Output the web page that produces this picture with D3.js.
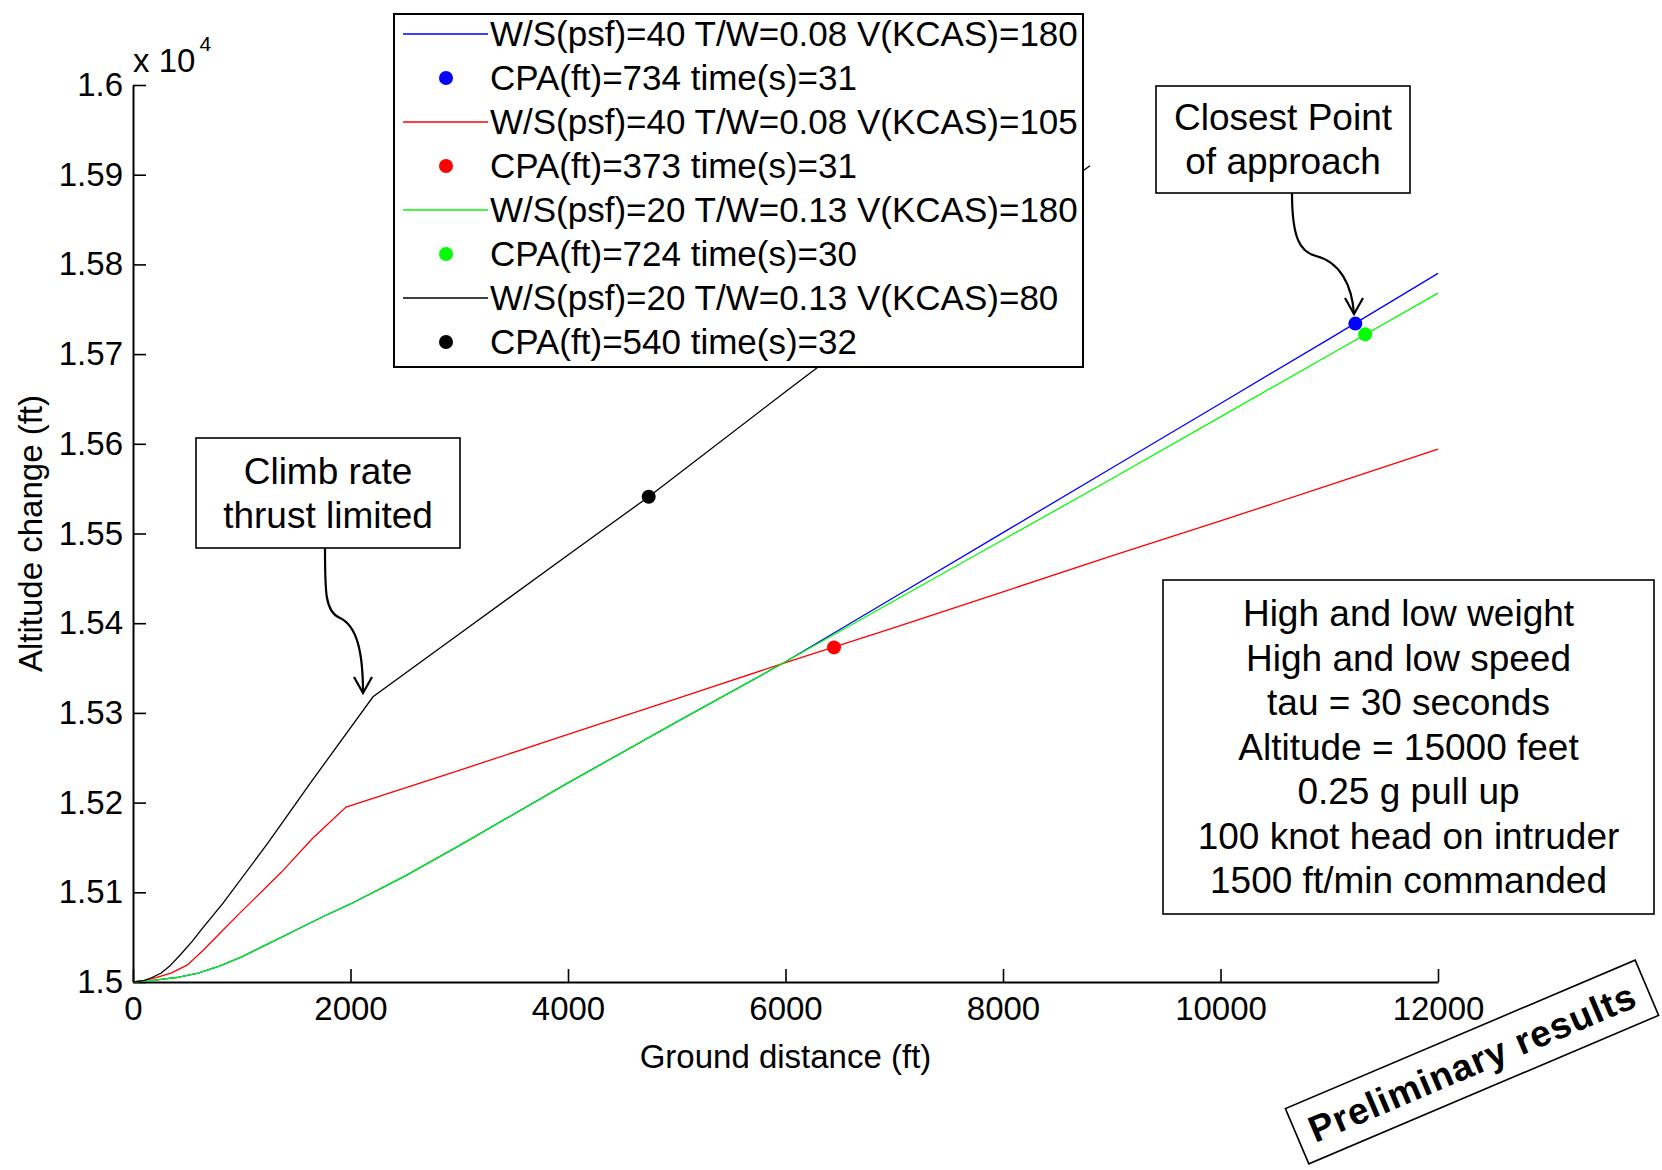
<!DOCTYPE html>
<html>
<head>
<meta charset="utf-8">
<script src="https://cdn.jsdelivr.net/npm/d3@7"></script>
<style>
  body { margin: 0; background: #fff; }
  text { font-family: "Liberation Sans", Arial, Helvetica, sans-serif; fill: #000; }
</style>
</head>
<body>
<div id="graph-container"></div>
<script>
const width = 1662, height = 1170;
const plot = { left: 133, right: 1438, top: 85, bottom: 982 };

// axis ticks
const xTicks = [0, 2000, 4000, 6000, 8000, 10000, 12000];
const yTicks = [15000, 15100, 15200, 15300, 15400, 15500, 15600, 15700, 15800, 15900, 16000];
const yTickLabels = ["1.5", "1.51", "1.52", "1.53", "1.54", "1.55", "1.56", "1.57", "1.58", "1.59", "1.6"];

// W/S 40, T/W 0.08, V 180 (blue)
const blueX = [0, 200, 400, 600, 800, 1000, 1250, 1500, 1750, 2000, 2500, 3000, 4000, 5000, 6000, 7000, 8000, 9000, 10000, 11000, 12000];
const blueY = [15000, 15002, 15005, 15010, 15018, 15028, 15043, 15058, 15073, 15087, 15118, 15152, 15222, 15290, 15357, 15429, 15501, 15573, 15645, 15717, 15790];
// W/S 40, T/W 0.08, V 105 (red)
const redX = [0, 100, 211, 350, 501, 650, 828, 1000, 1361, 1650, 1959, 3000, 4000, 5000, 6000, 7000, 8000, 9000, 10000, 11000, 12000];
const redY = [15000, 15001.5, 15005, 15010, 15019, 15036, 15058, 15079, 15122, 15160, 15195, 15236, 15276, 15316, 15356, 15395, 15435, 15475, 15514, 15554, 15594];
// W/S 20, T/W 0.13, V 180 (green)
const greenX = [0, 200, 400, 600, 800, 1000, 1250, 1500, 1750, 2000, 2500, 3000, 4000, 5000, 6000, 7000, 8000, 9000, 10000, 11000, 12000];
const greenY = [15000, 15002, 15005, 15010, 15018, 15028, 15043, 15058, 15073, 15087, 15118, 15152, 15222, 15290, 15357, 15425, 15493, 15561, 15630, 15699, 15768];
// W/S 20, T/W 0.13, V 80 (black)
const blackX = [0, 100, 175, 260, 340, 440, 542, 640, 828, 1241, 1650, 2207, 3000, 4000, 4742, 6000, 7000, 8000, 8800];
const blackY = [15000, 15001.5, 15005, 15010, 15018, 15031, 15045, 15060, 15088, 15155, 15225, 15318, 15388, 15476, 15541, 15658, 15750, 15840, 15910];

// closest point of approach markers
const cpaX = [11240, 6446, 11330, 4742];
const cpaY = [15734, 15373, 15722, 15541];

const seriesColors = ["#0000ff", "#ff0000", "#00ff00", "#000000"];
const lineLabels = [
  "W/S(psf)=40 T/W=0.08 V(KCAS)=180",
  "W/S(psf)=40 T/W=0.08 V(KCAS)=105",
  "W/S(psf)=20 T/W=0.13 V(KCAS)=180",
  "W/S(psf)=20 T/W=0.13 V(KCAS)=80"
];
const cpaLabels = [
  "CPA(ft)=734 time(s)=31",
  "CPA(ft)=373 time(s)=31",
  "CPA(ft)=724 time(s)=30",
  "CPA(ft)=540 time(s)=32"
];

const infoLines = [
  "High and low weight",
  "High and low speed",
  "tau = 30 seconds",
  "Altitude = 15000 feet",
  "0.25 g pull up",
  "100 knot head on intruder",
  "1500 ft/min commanded"
];

const series = [
  { xs: blueX, ys: blueY },
  { xs: redX, ys: redY },
  { xs: greenX, ys: greenY },
  { xs: blackX, ys: blackY }
].map((s, i) => ({
  color: seriesColors[i],
  points: s.xs.map((x, j) => [x, s.ys[j]]),
  cpa: [cpaX[i], cpaY[i]]
}));

const x = d3.scaleLinear().domain([0, 12000]).range([plot.left, plot.right]);
const y = d3.scaleLinear().domain([15000, 16000]).range([plot.bottom, plot.top]);

const svg = d3.select("#graph-container").append("svg")
  .attr("width", width)
  .attr("height", height)
  .attr("viewBox", [0, 0, width, height]);

svg.append("rect").attr("width", width).attr("height", height).attr("fill", "#fff");

// axes (left + bottom only, ticks inward)
const gx = svg.append("g")
  .attr("transform", `translate(0,${plot.bottom})`)
  .call(d3.axisBottom(x).tickValues(xTicks).tickFormat(d3.format("d"))
    .tickSizeInner(-13).tickSizeOuter(0).tickPadding(15));

const gy = svg.append("g")
  .attr("transform", `translate(${plot.left},0)`)
  .call(d3.axisLeft(y).tickValues(yTicks).tickFormat((d, i) => yTickLabels[i])
    .tickSizeInner(-13).tickSizeOuter(0).tickPadding(10));

[gx, gy].forEach(g => {
  g.select(".domain").attr("stroke", "#000").attr("stroke-width", 2);
  g.selectAll(".tick line").attr("stroke", "#000").attr("stroke-width", 1.6);
  g.selectAll(".tick text").attr("font-size", 33).attr("fill", "#000")
    .attr("font-family", '"Liberation Sans", Arial, sans-serif');
});

// exponent label
const expo = svg.append("text").attr("x", plot.left).attr("y", 72).attr("font-size", 33);
expo.append("tspan").text("x 10");
expo.append("tspan").attr("font-size", 21).attr("dy", -21).attr("dx", 4).text("4");

// axis titles
svg.append("text")
  .attr("x", (plot.left + plot.right) / 2).attr("y", 1068)
  .attr("text-anchor", "middle").attr("font-size", 33)
  .text("Ground distance (ft)");

svg.append("text")
  .attr("transform", `translate(42,${(plot.top + plot.bottom) / 2}) rotate(-90)`)
  .attr("text-anchor", "middle").attr("font-size", 33)
  .text("Altitude change (ft)");

// data lines
const line = d3.line().x(d => x(d[0])).y(d => y(d[1]));

svg.append("g").selectAll("path")
  .data(series)
  .join("path")
  .attr("fill", "none")
  .attr("stroke", d => d.color)
  .attr("stroke-width", 1.3)
  .attr("d", d => line(d.points));

svg.append("g").selectAll("circle")
  .data(series)
  .join("circle")
  .attr("cx", d => x(d.cpa[0]))
  .attr("cy", d => y(d.cpa[1]))
  .attr("r", 7)
  .attr("fill", d => d.color);

// legend
const legend = svg.append("g");
legend.append("rect")
  .attr("x", 394).attr("y", 14).attr("width", 689).attr("height", 353)
  .attr("fill", "#fff").attr("stroke", "#000").attr("stroke-width", 2);

const rows = legend.selectAll("g.row")
  .data(series)
  .join("g")
  .attr("class", "row")
  .attr("transform", (d, i) => `translate(0,${34 + i * 88})`);

rows.append("line")
  .attr("x1", 403).attr("x2", 488).attr("y1", 0).attr("y2", 0)
  .attr("stroke", d => d.color).attr("stroke-width", 1.3);
rows.append("text")
  .attr("x", 490).attr("y", 0).attr("dy", "0.35em").attr("font-size", 35)
  .text((d, i) => lineLabels[i]);
rows.append("circle")
  .attr("cx", 446).attr("cy", 44).attr("r", 7)
  .attr("fill", d => d.color);
rows.append("text")
  .attr("x", 490).attr("y", 44).attr("dy", "0.35em").attr("font-size", 35)
  .text((d, i) => cpaLabels[i]);

// annotation boxes
function noteBox(x0, y0, w, h, lines, fs, lineGap) {
  const g = svg.append("g");
  g.append("rect").attr("x", x0).attr("y", y0).attr("width", w).attr("height", h)
    .attr("fill", "#fff").attr("stroke", "#000").attr("stroke-width", 1.6);
  const cy = y0 + h / 2 - (lines.length - 1) * lineGap / 2;
  g.selectAll("text").data(lines).join("text")
    .attr("x", x0 + w / 2).attr("y", (d, i) => cy + i * lineGap)
    .attr("dy", "0.35em").attr("text-anchor", "middle").attr("font-size", fs)
    .text(d => d);
}

function arrow(d, tip) {
  svg.append("path").attr("d", d).attr("fill", "none")
    .attr("stroke", "#000").attr("stroke-width", 2.2);
  svg.append("path")
    .attr("d", `M${tip[0] - 9},${tip[1] - 16}L${tip[0]},${tip[1]}L${tip[0] + 9},${tip[1] - 16}`)
    .attr("fill", "none").attr("stroke", "#000").attr("stroke-width", 2.2);
}

noteBox(196, 438, 264, 110, ["Climb rate", "thrust limited"], 37, 44);
arrow("M325,548C325,592 325,612 340,618C357,626 363,652 363,693", [363, 693]);

noteBox(1156, 86, 254, 107, ["Closest Point", "of approach"], 37, 44);
arrow("M1292,193C1292,238 1300,252 1316,256C1340,262 1352,285 1354,314", [1354, 314]);

noteBox(1163, 580, 491, 334, infoLines, 37, 44.5);

// stamp
const stamp = svg.append("g").attr("transform", "translate(1472,1062) rotate(-23)");
stamp.append("rect").attr("x", -190).attr("y", -30).attr("width", 380).attr("height", 60)
  .attr("fill", "#fff").attr("stroke", "#000").attr("stroke-width", 1.6);
stamp.append("text").attr("x", 0).attr("y", 0).attr("dy", "0.36em")
  .attr("text-anchor", "middle").attr("font-size", 37).attr("font-weight", "bold")
  .attr("letter-spacing", 1)
  .text("Preliminary results");
</script>
</body>
</html>
